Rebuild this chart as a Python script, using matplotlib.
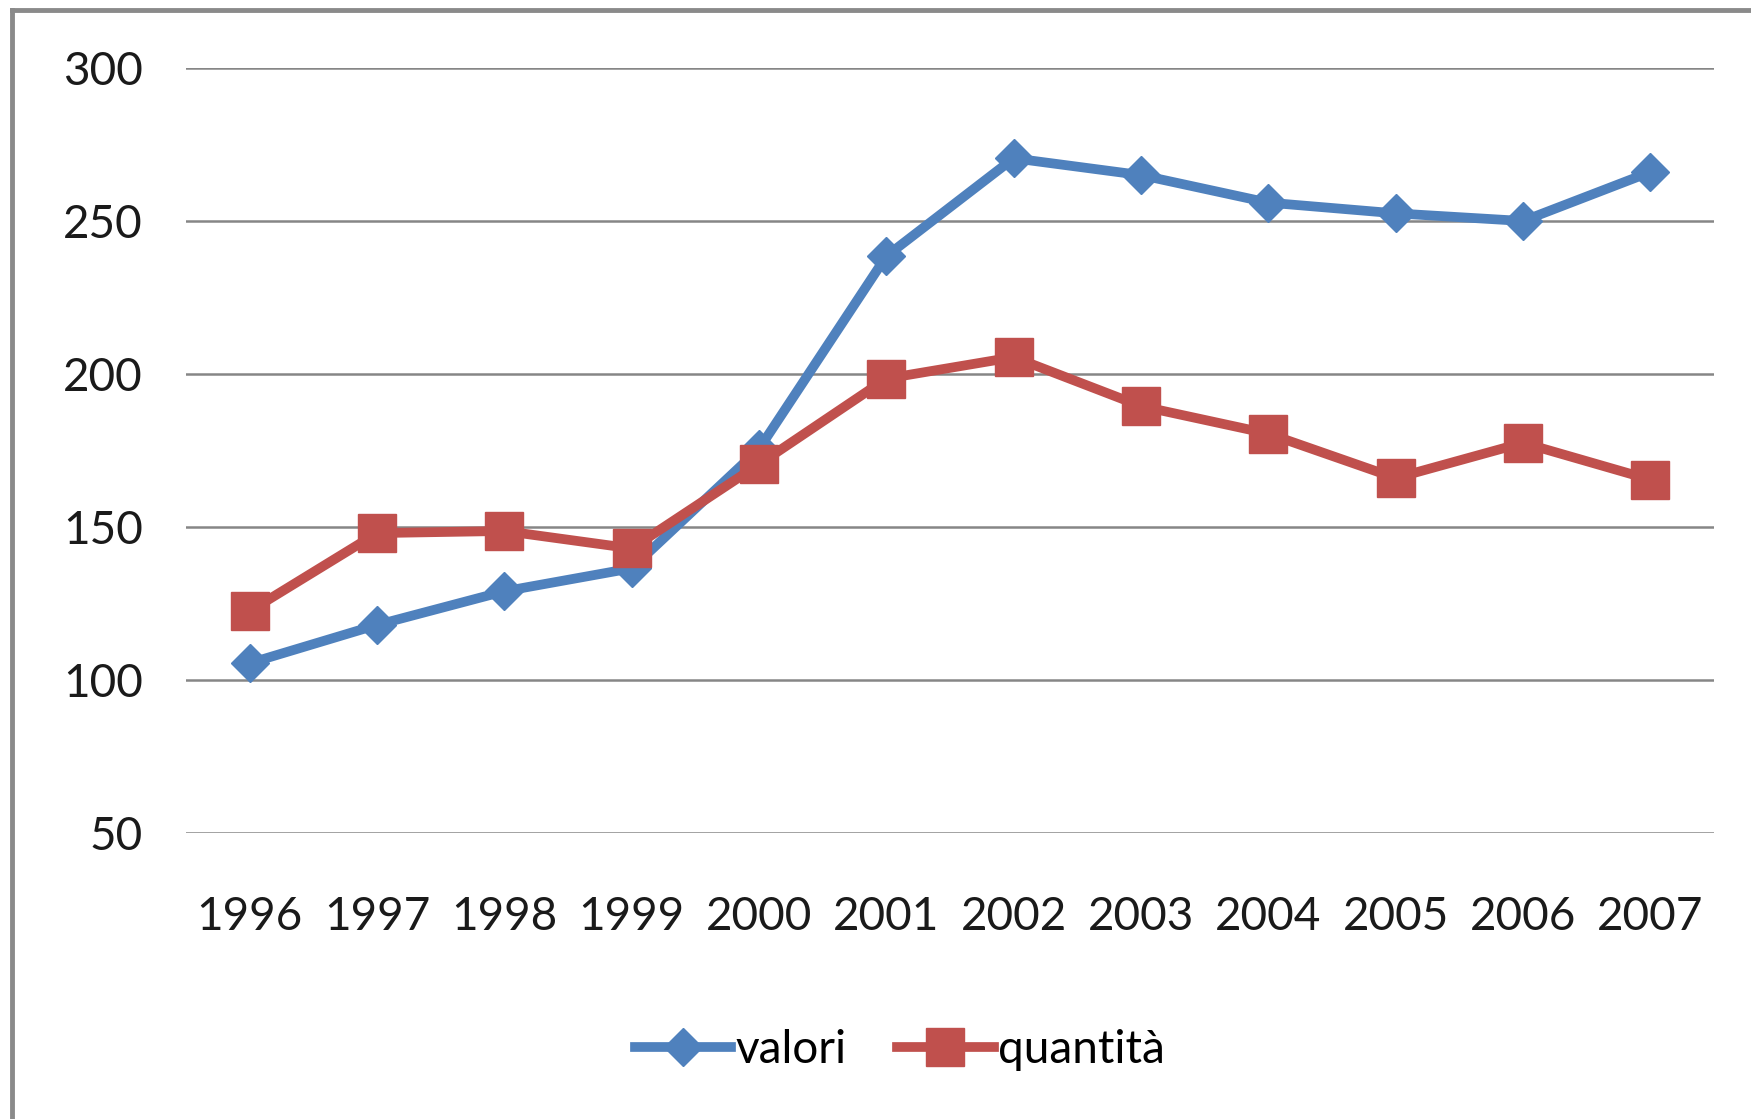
import matplotlib
matplotlib.use("Agg")
import matplotlib.pyplot as plt
from matplotlib.lines import Line2D

years = ["1996", "1997", "1998", "1999", "2000", "2001", "2002", "2003", "2004", "2005", "2006", "2007"]
valori = [105.5, 118, 129, 136.5, 175.5, 238.5, 270.5, 265, 256, 252.5, 250, 266]
quantita = [122.5, 148, 148.7, 143, 170.5, 198.5, 205.5, 189.5, 180.5, 166, 177.5, 165.5]
yticks = [50, 100, 150, 200, 250, 300]

W, H = 1751, 1119
fig = plt.figure(figsize=(W / 100, H / 100), dpi=100)
fig.patch.set_facecolor("white")

left, right, top, bottom = 186 / W, 1714 / W, 1 - 68 / H, 1 - 833 / H
ax = fig.add_axes([left, bottom, right - left, top - bottom])

font = "Lato"
fs = 33
blue = "#4F81BD"
red = "#C0504D"

x = list(range(len(years)))
ax.plot(x, valori, color=blue, lw=7, marker="D", ms=19, label="valori", zorder=3,
        solid_joinstyle="round")
ax.plot(x, quantita, color=red, lw=7, marker="s", ms=27, label="quantità", zorder=3,
        solid_joinstyle="round")

ax.set_xlim(-0.5, len(years) - 0.5)
ax.set_ylim(50, 300)
ax.set_yticks(yticks)
ax.set_xticks(x)
ax.set_xticklabels(years)
ax.yaxis.grid(True, color="#868686", lw=1.8)
ax.set_axisbelow(True)
for s in ax.spines.values():
    s.set_visible(False)
ax.tick_params(axis="both", length=0, labelsize=fs, colors="#1a1a1a")
ax.tick_params(axis="y", pad=31)
ax.tick_params(axis="x", pad=45)
for lab in ax.get_xticklabels() + ax.get_yticklabels():
    lab.set_fontfamily(font)

leg = fig.legend(loc="center", bbox_to_anchor=(900 / W, 1 - 1050 / H), ncol=2,
                 frameon=False, prop={"family": font, "size": fs},
                 handlelength=2.1, handletextpad=0.1, columnspacing=1.1)

# outer frame (left and top edges)
fig.add_artist(Line2D([12 / W, 12 / W], [0, 1 - 10 / H], transform=fig.transFigure,
                      color="#8a8a8a", lw=3.5))
fig.add_artist(Line2D([12 / W, 1], [1 - 10 / H, 1 - 10 / H], transform=fig.transFigure,
                      color="#8a8a8a", lw=3.5))

fig.savefig("out.png", dpi=100, facecolor="white")
